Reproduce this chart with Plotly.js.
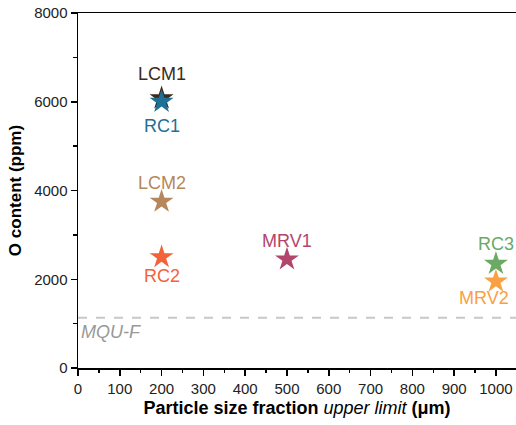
<!DOCTYPE html>
<html>
<head>
<meta charset="utf-8">
<script src="https://cdn.plot.ly/plotly-3.0.1.min.js"></script>
<style>html,body{margin:0;padding:0;background:#fff;}#chart{width:516px;height:425px;}</style>
</head>
<body>
<div id="chart"></div>
<script>
const samples = ["LCM1", "RC1", "LCM2", "RC2", "MRV1", "RC3", "MRV2"];
const sizeUpper = [200, 200, 200, 200, 500, 1000, 1000];
const oContent = [6080, 6000, 3750, 2500, 2450, 2350, 1950];
const colors = ["#3b2a1e", "#1f6f96", "#b5875a", "#f4623a", "#b3456c", "#6aaa64", "#f9a142"];
// label offsets in pixels (style only)
const labelDx = [0, 0, 0, 0, 0, 0, -12];
const labelDy = [24, -24, 19, -19, 18, 20, -17];
const mquF = 1130;
const xTicks = [0, 100, 200, 300, 400, 500, 600, 700, 800, 900, 1000];
const yTicks = [0, 2000, 4000, 6000, 8000];

const traces = samples.map((s, i) => ({
  type: "scatter",
  mode: "markers",
  x: [sizeUpper[i]],
  y: [oContent[i]],
  name: s,
  marker: {symbol: "star", size: 18, color: colors[i], line: {width: 0}},
  showlegend: false,
  cliponaxis: false
}));

const labelAnn = samples.map((s, i) => ({
  xref: "x", yref: "y", x: sizeUpper[i], y: oContent[i], text: s, showarrow: false,
  xanchor: "center", yanchor: "middle", xshift: labelDx[i], yshift: labelDy[i],
  font: {family: "Liberation Sans, Arial, sans-serif", size: 18, color: colors[i]}
}));

const layout = {
  width: 516, height: 425,
  margin: {l: 78, r: 0, t: 13, b: 57},
  paper_bgcolor: "#fff", plot_bgcolor: "#fff",
  font: {family: "Liberation Sans, Arial, sans-serif", size: 15, color: "#000"},
  xaxis: {
    range: [0, 1048], tickvals: xTicks, ticktext: xTicks.map(String),
    showgrid: false, zeroline: false, showline: true, linecolor: "#000", linewidth: 1.5, mirror: true,
    ticks: "outside", ticklen: 6, tickwidth: 1.5, tickcolor: "#000",
    minor: {dtick: 50, tick0: 0, ticks: "outside", ticklen: 3.5, tickwidth: 1.5, tickcolor: "#000", showgrid: false},
    tickfont: {size: 15, color: "#222"},
    title: {text: "<b>Particle size fraction </b><i>upper limit</i><b> (μm)</b>", font: {size: 18, color: "#000"}, standoff: 6}
  },
  yaxis: {
    range: [0, 8000], tickvals: yTicks, ticktext: yTicks.map(String),
    showgrid: false, zeroline: false, showline: true, linecolor: "#000", linewidth: 1.5,
    ticks: "outside", ticklen: 6, tickwidth: 1.5, tickcolor: "#000",
    minor: {dtick: 1000, tick0: 0, ticks: "outside", ticklen: 3.5, tickwidth: 1.5, tickcolor: "#000", showgrid: false},
    tickfont: {size: 15, color: "#222"},
    title: {text: "<b>O content (ppm)</b>", font: {size: 17, color: "#000"}, standoff: 8}
  },
  shapes: [{
    type: "line", xref: "paper", yref: "y", x0: 0, x1: 1, y0: mquF, y1: mquF,
    line: {color: "#c8c8c8", width: 2, dash: "dash"}, layer: "below"
  }],
  annotations: labelAnn.concat([{
    xref: "x", yref: "y", x: 3, y: mquF, text: "<i>MQU-F</i>", showarrow: false,
    xanchor: "left", yanchor: "top", yshift: -2,
    font: {size: 18, color: "#999"}
  }])
};

Plotly.newPlot("chart", traces, layout, {displayModeBar: false, staticPlot: true});
</script>
</body>
</html>
